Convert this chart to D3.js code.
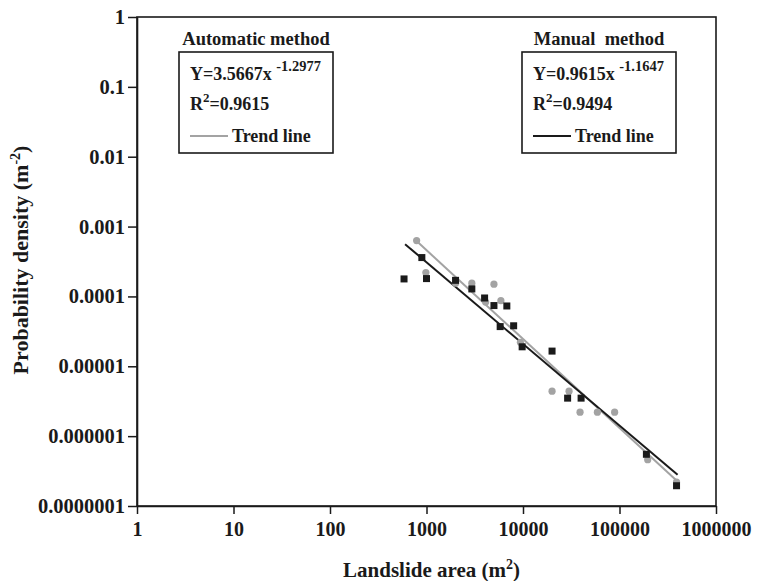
<!DOCTYPE html>
<html>
<head>
<meta charset="utf-8">
<script src="https://cdn.jsdelivr.net/npm/d3@7"></script>
<style>
  body { margin: 0; background: #fff; }
  text { font-family: "Liberation Serif", "Times New Roman", serif; font-weight: bold; fill: #1a1a1a; }
</style>
</head>
<body>
<svg id="chart" width="758" height="581"></svg>
<script>
// landslide area (m2) vs probability density, two mapping methods
const autoArea = [790, 985, 2000, 2950, 4100, 5000, 5900, 9400, 20000, 30000, 39000, 59000, 89000, 196000, 390000];
const autoDensity = [6.3e-4, 2.2e-4, 1.55e-4, 1.55e-4, 8.3e-5, 1.5e-4, 8.7e-5, 2.2e-5, 4.4e-6, 4.4e-6, 2.2e-6, 2.2e-6, 2.2e-6, 4.6e-7, 2.2e-7];

const manualArea = [585, 895, 1000, 2000, 2950, 4000, 5000, 6800, 5800, 8000, 9800, 20000, 29000, 40000, 190000, 390000];
const manualDensity = [1.78e-4, 3.6e-4, 1.8e-4, 1.7e-4, 1.28e-4, 9.5e-5, 7.4e-5, 7.3e-5, 3.7e-5, 3.8e-5, 1.9e-5, 1.65e-5, 3.5e-6, 3.5e-6, 5.5e-7, 1.95e-7];

// trend line end points as drawn
const autoTrend = [[800, 6.1e-4], [400000, 2.25e-7]];
const manualTrend = [[600, 5.6e-4], [400000, 2.8e-7]];

const xTicks = [1, 10, 100, 1000, 10000, 100000, 1000000];
const xTickLabels = ["1", "10", "100", "1000", "10000", "100000", "1000000"];
const yTicks = [1, 0.1, 0.01, 0.001, 0.0001, 0.00001, 0.000001, 0.0000001];
const yTickLabels = ["1", "0.1", "0.01", "0.001", "0.0001", "0.00001", "0.000001", "0.0000001"];

const svg = d3.select("#chart");
const plotL = 137, plotR = 716, plotT = 17, plotB = 506;
const grey = "#a3a3a3", dark = "#1a1a1a";

const x = d3.scaleLog().domain([1, 1e6]).range([plotL, plotR]);
const y = d3.scaleLog().domain([1e-7, 1]).range([plotB, plotT]);

// frame
svg.append("rect")
  .attr("x", plotL).attr("y", plotT)
  .attr("width", plotR - plotL).attr("height", plotB - plotT)
  .attr("fill", "none").attr("stroke", dark).attr("stroke-width", 1.6);

const xAxis = svg.append("g")
  .attr("transform", `translate(0,${plotB})`)
  .call(d3.axisBottom(x).tickValues(xTicks)
    .tickFormat((d, i) => xTickLabels[i]).tickSizeInner(8).tickSizeOuter(0).tickPadding(8));
xAxis.select(".domain").attr("stroke", dark).attr("stroke-width", 1.6);
xAxis.selectAll(".tick line").attr("stroke", dark).attr("stroke-width", 1.5);
xAxis.selectAll(".tick text").style("font-size", "20px").attr("fill", dark);

const yAxis = svg.append("g")
  .attr("transform", `translate(${plotL},0)`)
  .call(d3.axisLeft(y).tickValues(yTicks)
    .tickFormat((d, i) => yTickLabels[i]).tickSizeInner(9).tickSizeOuter(0).tickPadding(3));
yAxis.select(".domain").attr("stroke", dark).attr("stroke-width", 1.6);
yAxis.selectAll(".tick line").attr("stroke", dark).attr("stroke-width", 1.5);
yAxis.selectAll(".tick text").style("font-size", "20.5px").attr("fill", dark);

// axis titles
const xt = svg.append("text").attr("x", (plotL + plotR) / 2 + 5).attr("y", 577)
  .attr("text-anchor", "middle").style("font-size", "21px");
xt.append("tspan").text("Landslide area (m");
xt.append("tspan").attr("dy", -8).style("font-size", "14px").text("2");
xt.append("tspan").attr("dy", 8).text(")");

const yt = svg.append("text").attr("transform", "translate(28,260) rotate(-90)")
  .attr("text-anchor", "middle").style("font-size", "22px");
yt.append("tspan").text("Probability density (m");
yt.append("tspan").attr("dy", -8).style("font-size", "14px").text("-2");
yt.append("tspan").attr("dy", 8).text(")");

// trend lines
const line = d3.line().x(d => x(d[0])).y(d => y(d[1]));
svg.append("path").datum(autoTrend).attr("d", line)
  .attr("fill", "none").attr("stroke", grey).attr("stroke-width", 2);
svg.append("path").datum(manualTrend).attr("d", line)
  .attr("fill", "none").attr("stroke", dark).attr("stroke-width", 2);

// points
svg.append("g").selectAll("circle")
  .data(autoArea.map((a, i) => [a, autoDensity[i]]))
  .join("circle")
  .attr("cx", d => x(d[0])).attr("cy", d => y(d[1])).attr("r", 3.6)
  .attr("fill", grey);

svg.append("g").selectAll("rect")
  .data(manualArea.map((a, i) => [a, manualDensity[i]]))
  .join("rect")
  .attr("x", d => x(d[0]) - 3.5).attr("y", d => y(d[1]) - 3.5)
  .attr("width", 7).attr("height", 7)
  .attr("fill", dark);

// legend boxes
function legendBox(bx, title, coef, expo, r2, color) {
  const g = svg.append("g");
  const w = 154, h = 101, by = 52;
  g.append("text").attr("x", bx + w / 2).attr("y", 45).attr("text-anchor", "middle")
    .style("font-size", "18.5px").text(title);
  g.append("rect").attr("x", bx).attr("y", by).attr("width", w).attr("height", h)
    .attr("fill", "#fff").attr("stroke", dark).attr("stroke-width", 1.6);
  const t1 = g.append("text").attr("x", bx + 11).attr("y", 80).style("font-size", "18px");
  t1.append("tspan").text("Y=" + coef + "x ");
  t1.append("tspan").attr("dy", -9).style("font-size", "14.5px").text(expo);
  const t2 = g.append("text").attr("x", bx + 11).attr("y", 110).style("font-size", "18px");
  t2.append("tspan").text("R");
  t2.append("tspan").attr("dy", -8).style("font-size", "13px").text("2");
  t2.append("tspan").attr("dy", 8).text("=" + r2);
  g.append("line").attr("x1", bx + 11).attr("x2", bx + 49).attr("y1", 136).attr("y2", 136)
    .attr("stroke", color).attr("stroke-width", 2);
  g.append("text").attr("x", bx + 53).attr("y", 142).style("font-size", "18px").text("Trend line");
}
legendBox(179, "Automatic method", "3.5667", "-1.2977", "0.9615", grey);
legendBox(522, "Manual\u00a0 method", "0.9615", "-1.1647", "0.9494", dark);
</script>
</body>
</html>
